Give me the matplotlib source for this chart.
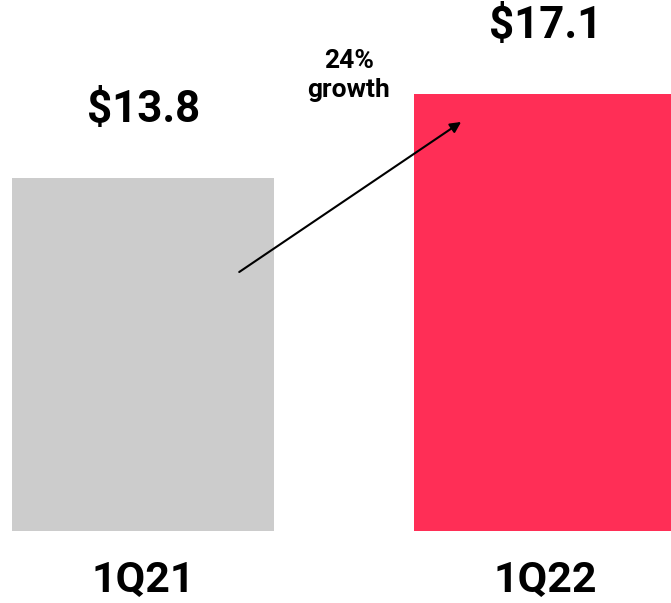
import matplotlib.pyplot as plt

plt.rcParams["font.family"] = ["Roboto", "DejaVu Sans"]

# Data
quarters = ["1Q21", "1Q22"]
revenue = [13.8, 17.1]
value_labels = ["$13.8", "$17.1"]
growth_text = "24%\ngrowth"
bar_colors = ["#cccccc", "#ff2e56"]


def main():
    fig = plt.figure(figsize=(6.71, 6.03), dpi=100)
    ax = fig.add_axes([0, 0, 1, 1])

    x = list(range(len(quarters)))
    bars = ax.bar(x, revenue, width=0.652, color=bar_colors, linewidth=0)

    # value labels above bars
    for rect, lab in zip(bars, value_labels):
        ax.annotate(
            lab,
            xy=(rect.get_x() + rect.get_width() / 2, rect.get_height()),
            xytext=(0, 49),
            textcoords="offset points",
            ha="center",
            va="center",
            fontsize=31.5,
            fontweight="bold",
        )

    # category labels under bars
    for xi, q in zip(x, quarters):
        ax.text(xi, -1.92, q, ha="center", va="center", fontsize=31, fontweight="bold")

    # growth arrow
    ax.annotate(
        "",
        xy=(0.791, 16.0),
        xytext=(0.239, 10.13),
        arrowprops=dict(arrowstyle="-|>", color="black", lw=1.5, mutation_scale=16,
                        shrinkA=0, shrinkB=0),
    )
    ax.text(0.512, 17.82, growth_text, ha="center", va="center", fontsize=19,
            fontweight="bold", linespacing=1.3)

    ax.set_xlim(-0.356, 1.313)
    ax.set_ylim(-2.817, 20.77)
    ax.axis("off")

    fig.savefig("out.png", dpi=100)
    plt.close(fig)


if __name__ == "__main__":
    main()
